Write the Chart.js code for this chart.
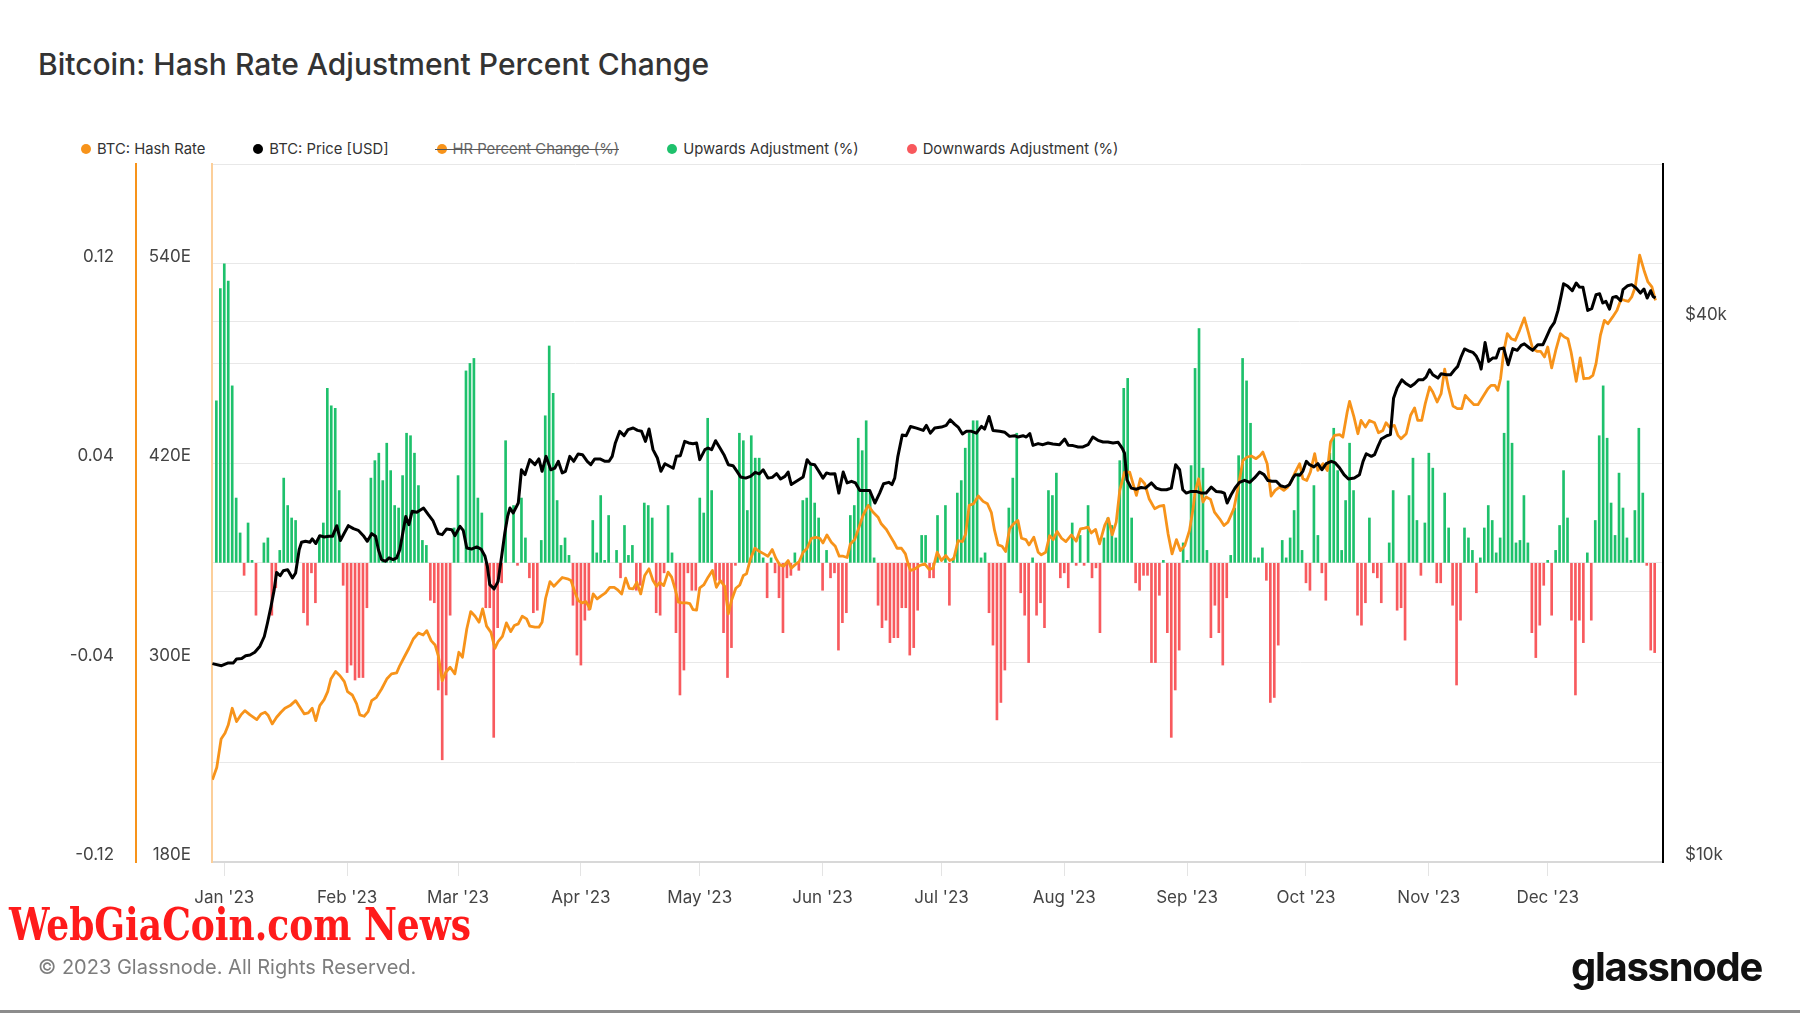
<!DOCTYPE html>
<html>
<head>
<meta charset="utf-8">
<script src="https://cdn.jsdelivr.net/npm/chart.js@4.4.1/dist/chart.umd.min.js"></script>
<style>
  html, body { margin:0; padding:0; background:#fff; }
  body { width:1800px; height:1013px; position:relative; overflow:hidden; font-family: Inter, "Noto Sans", sans-serif; }
  #chart { position:absolute; left:0; top:0; }
  .title { position:absolute; left:38px; top:47px; font-size:30px; line-height:34px; color:#333; font-weight:500; white-space:nowrap; }
  .legend { position:absolute; left:81px; top:139px; height:20px; display:flex; align-items:center; font-size:14.8px; color:#333; white-space:nowrap; }
  .legend .item { display:flex; align-items:center; margin-right:48px; position:relative; }
  .legend .dot { width:10px; height:10px; border-radius:50%; margin-right:6px; display:inline-block; }
  .legend .off { color:#666; }
  .legend .off::after { content:""; position:absolute; left:-2px; right:0; top:50%; height:1px; background:#555; }
  .wm { position:absolute; left:9px; top:899px; font-family:"DejaVu Serif Condensed","DejaVu Serif",serif; font-weight:bold; font-size:45px; line-height:52px; color:#ff1b1b; white-space:nowrap; transform-origin:left center; transform:scaleX(0.89); }
  .copy { position:absolute; left:38px; top:955px; font-size:20px; line-height:24px; color:#7d7d7d; white-space:nowrap; }
  .logo { position:absolute; right:38px; top:942px; font-size:40px; line-height:50px; font-weight:700; color:#111; letter-spacing:-1.3px; white-space:nowrap; }
  .rule { position:absolute; left:0; right:0; top:1010px; height:3px; background:#8c8c8c; }
</style>
</head>
<body>
<div class="title">Bitcoin: Hash Rate Adjustment Percent Change</div>
<div class="legend">
  <div class="item"><span class="dot" style="background:#f7931a"></span>BTC: Hash Rate</div>
  <div class="item"><span class="dot" style="background:#000"></span>BTC: Price [USD]</div>
  <div class="item off"><span class="dot" style="background:#f7931a"></span>HR Percent Change (%)</div>
  <div class="item"><span class="dot" style="background:#1ec16c"></span>Upwards Adjustment (%)</div>
  <div class="item"><span class="dot" style="background:#f8585c"></span>Downwards Adjustment (%)</div>
</div>
<canvas id="chart" width="1800" height="1013"></canvas>
<div class="wm">WebGiaCoin.com News</div>
<div class="copy">© 2023 Glassnode. All Rights Reserved.</div>
<div class="logo">glassnode</div>
<div class="rule"></div>
<script>
// ---- x axis (days since 1 Jan 2023) ----
const monthStartDay = [0,31,59,90,120,151,181,212,243,273,304,334];
const monthLabel = ["Jan '23","Feb '23","Mar '23","Apr '23","May '23","Jun '23","Jul '23","Aug '23","Sep '23","Oct '23","Nov '23","Dec '23"];

// ---- y tick values / labels ----
const pctGridValues = [-0.12,-0.08,-0.04,0,0.04,0.08,0.12,0.16];
const pctTickLabels = ['-0.12','','-0.04','','0.04','','0.12',''];
const hashTickValues = [180,300,420,540];
const priceTickValues = [10000,20000,40000];
const priceTickLabels = ['$10k','','$40k'];

// ---- hash rate percent change per day (first value = day -2, i.e. 30 Dec 2022) ----
const adjStartDay = -2;
const hrAdjustment = [
 0.065,0.110,0.120,0.113,0.071,0.026,0.012,-0.005,0.016,0.001,-0.021,0,0.008,0.010,-0.021,-0.010,0.005,0.034,0.023,0.018,
 0.017,0,-0.020,-0.025,-0.004,-0.016,0.011,0.016,0.070,0.063,0.062,0.029,-0.009,-0.044,-0.041,-0.047,-0.046,-0.046,-0.018,0.034,
 0.041,0.044,0.033,0.048,0.037,0.023,0.022,0.035,0.052,0.051,0.044,0.031,0.009,0.007,-0.015,-0.016,-0.051,-0.079,-0.053,-0.021,
 0.014,0.035,0,0.077,0.080,0.082,0.026,0.020,-0.018,-0.018,-0.070,-0.026,-0.008,0.049,0,0.023,-0.001,0.026,0.010,-0.006,
 -0.020,-0.019,0.009,0.059,0.087,0.068,0.025,0.007,0.010,0.003,-0.017,-0.037,-0.041,-0.023,-0.019,0.017,0.004,0.027,0.001,0.019,
 0,0.005,-0.006,0.015,0.003,0.007,-0.011,-0.009,0.024,0.023,0.018,-0.020,-0.021,-0.004,0.023,0.004,-0.028,-0.053,-0.043,-0.004,
 -0.011,-0.011,0.026,0.020,0.058,0.029,-0.007,-0.007,-0.028,-0.046,-0.034,-0.001,0.052,0.049,0.021,0.051,0.042,0.042,0.002,-0.014,
 0.002,-0.004,-0.014,-0.028,-0.006,-0.005,0.004,-0.003,0.025,0.026,0.040,0.024,0.018,-0.011,0.005,-0.006,-0.004,-0.035,-0.024,-0.020,
 0.019,0.023,0.050,0.045,0.057,0.028,0.002,-0.017,-0.026,-0.023,-0.032,-0.030,-0.030,-0.018,-0.018,-0.037,-0.034,-0.019,0.011,0.011,
 -0.006,-0.006,0.019,0,0.023,-0.017,0.002,0.028,0.033,0.046,0.052,0.057,0.057,0.002,0.004,-0.020,-0.033,-0.063,-0.056,-0.043,
 0.022,0.034,0.052,-0.012,-0.021,-0.040,0.002,-0.021,-0.016,-0.026,0.029,0.027,0.036,-0.006,-0.004,-0.010,0.016,-0.001,0.011,-0.001,
 0.023,-0.006,-0.002,-0.028,0.010,0.018,0.015,0.010,0.041,0.070,0.074,0.018,-0.008,-0.011,-0.005,-0.005,-0.040,-0.040,-0.013,0.001,
 -0.028,-0.070,-0.051,-0.035,0.008,0.001,0.039,0.078,0.094,0.038,0.005,-0.030,-0.017,-0.028,-0.041,-0.014,0.003,0.022,0.043,0.082,
 0.073,0.056,0.002,0.002,0.006,-0.007,-0.056,-0.054,-0.033,0.009,0.002,0.010,0.021,0.036,0.005,-0.008,-0.011,0.031,0.011,-0.004,
 -0.015,0.044,0.054,0.037,0.005,0.025,0.048,0.029,-0.021,-0.025,-0.016,0.018,-0.004,-0.006,-0.016,0,0.008,0.029,-0.019,-0.018,
 -0.031,0.027,0.042,0.017,-0.005,0.016,0.044,0.038,-0.008,-0.008,0.028,0.014,-0.017,-0.049,-0.023,0.014,0.010,0.005,-0.012,0.002,
 0.014,0.023,0.017,0.004,0.010,0.052,0.073,0.048,0.008,0.009,0.027,0.008,-0.028,-0.038,-0.025,-0.009,0.001,-0.021,0.005,0.015,
 0.037,0.018,-0.023,-0.053,-0.023,-0.032,0.004,-0.023,0.017,0.051,0.071,0.050,0.024,0.011,0.036,0.022,0.010,0.001,0.021,0.054,
 0.028,-0.001,-0.035,-0.036
];

// ---- BTC price [USD] ----
const priceDay = [
 -3.0,-0.7,1.0,2.3,3.1,4.4,5.4,6.5,7.7,9.0,10.1,10.9,11.8,12.6,13.2,14.1,14.9,16.0,17.2,18.0,18.9,19.5,20.5,21.6,22.2,23.1,24.1,25.2,26.4,27.3,
 28.4,29.3,30.3,31.3,32.6,33.8,35.1,36.1,37.2,38.2,38.9,39.7,40.7,41.6,42.6,43.5,44.3,45.2,45.8,46.6,47.4,48.6,50.3,51.5,52.7,54.0,55.0,56.1,57.4,58.2,
 59.5,60.3,61.2,62.4,63.7,64.8,65.8,66.4,67.0,68.1,69.1,70.0,70.8,71.5,72.1,72.9,74.2,75.0,75.9,77.1,78.4,79.4,80.2,81.2,82.4,83.4,84.3,85.3,86.1,87.2,
 88.2,89.3,90.4,91.6,92.5,93.5,94.8,96.1,97.1,97.9,98.7,99.8,100.9,101.9,103.2,104.3,105.3,106.3,107.2,108.2,109.3,110.2,111.2,112.5,113.3,114.1,115.1,116.2,117.2,118.3,
 119.2,120.0,121.3,122.1,123.0,124.0,125.1,126.1,127.2,128.4,129.4,130.3,131.6,132.8,134.0,135.0,136.0,137.2,138.3,139.4,140.4,141.5,142.3,143.1,144.4,146.1,147.1,147.9,149.0,150.3,
 151.1,152.0,152.8,154.1,155.1,156.2,157.2,158.3,159.3,160.4,161.6,162.9,164.2,165.4,166.4,167.7,168.5,169.2,170.0,171.1,172.1,173.2,174.7,176.4,177.2,178.2,179.3,181.0,182.2,183.2,
 184.3,185.2,186.3,187.3,188.6,189.8,191.1,191.9,193.0,194.0,195.7,197.0,198.2,199.5,200.3,201.6,202.4,203.3,204.1,205.4,206.6,207.9,209.1,210.8,212.1,213.0,214.2,215.5,216.7,218.0,
 219.2,220.5,221.8,223.0,224.3,225.6,226.6,227.2,227.8,228.9,230.2,231.4,232.5,234.0,235.2,236.5,237.8,239.0,240.1,241.1,241.9,242.8,244.0,245.3,246.6,247.8,249.1,250.3,251.6,252.4,
 253.1,254.1,255.1,256.2,257.5,258.8,260.0,261.3,262.4,263.4,264.4,265.5,266.6,267.8,268.8,269.7,270.3,271.4,272.2,273.1,273.9,275.0,276.0,277.0,278.1,279.4,280.4,281.5,282.6,283.7,
 285.2,286.5,287.4,288.2,289.5,290.3,291.1,292.0,293.4,294.3,295.1,296.0,297.2,298.3,299.4,300.4,301.4,302.5,303.3,304.2,305.0,306.3,307.1,308.4,309.5,310.5,311.3,312.2,313.0,314.3,
 315.1,316.0,316.8,317.2,318.2,319.1,320.1,321.0,321.8,322.9,324.0,325.2,326.3,327.3,328.1,329.4,330.2,331.5,332.8,333.6,334.7,335.7,336.6,337.4,338.0,339.1,340.2,341.2,342.0,342.9,
 344.1,345.1,346.2,347.1,347.9,348.7,349.6,350.4,351.3,352.4,353.0,354.2,355.2,356.3,357.4,358.3,359.1,360.0,360.6,361.2
];
const priceUsd = [
 16640,16550,16670,16670,16840,16860,16980,17010,17130,17400,17840,18470,19280,20120,21030,20850,21120,21180,20730,21000,22290,22720,22780,22720,22920,22650,23110,23030,23070,23070,
 23710,22830,23270,23710,23530,23430,23110,22780,23230,23070,22290,21730,21640,21830,21730,21830,22290,23470,24280,23770,24600,24540,24810,24390,24000,23230,23170,23510,23470,23110,
 23670,23430,22390,22330,22450,22330,21920,21360,20380,20160,20550,21920,23270,24280,24810,24490,25130,27370,27030,28090,27730,28140,27260,28330,27370,27480,27970,27150,27260,28330,
 27970,28500,28450,27970,27730,28140,28140,27970,27970,28330,29320,30210,29880,30340,30470,30280,30210,29440,30390,28820,28210,27260,27800,27600,27480,28330,28380,29440,29320,29260,
 29320,28090,28820,28940,28820,29490,28940,28450,27730,27660,27260,26870,26790,26910,27190,27080,27370,26790,26840,27100,26730,26910,27210,26350,26570,26870,28090,27780,27730,27150,
 26790,27150,27080,27100,25780,27210,26460,26570,26460,25950,25950,25950,25130,25780,26410,26500,26350,26790,28330,29920,29870,30590,30460,30280,30670,30070,30460,30540,30670,31120,
 30770,30540,30000,30210,30210,30070,30590,30380,31380,30280,30210,30130,29820,29870,29770,29870,29770,30030,29140,29270,29190,29320,29240,29190,29620,29140,29120,29020,29020,29190,
 29770,29520,29390,29390,29320,29370,28940,28570,26680,26110,26040,26150,26110,26460,26110,26000,26000,26110,27730,27370,26000,25780,25890,25890,25780,25780,26180,25890,25850,25780,
 25130,25670,26120,26500,26640,26500,26800,27210,27030,26620,26570,26570,26270,26180,26340,26800,27030,26990,27260,27970,27730,27570,27800,27370,27800,27970,27850,27490,27030,26730,
 26800,27030,27970,28520,28330,28450,29020,29620,29870,29950,32890,33770,34480,34130,33890,34130,34480,34480,34720,35380,34930,34630,35020,34930,34930,35380,35690,36620,37320,37100,
 37000,36620,36000,35440,37950,36150,36460,36460,37320,37410,35840,37350,37190,37670,37820,37410,37190,37730,37730,38390,39370,39950,41200,42790,44130,43830,43340,44200,43760,43720,
 41200,41380,42900,43010,41990,42170,41340,42600,42710,42240,43450,43900,44020,43640,43080,43530,42530,43340,42710,42530
];

// ---- BTC hash rate [EH/s] ----
const hashDay = [
 -3.0,-1.9,-0.8,0.2,1.0,2.0,3.1,4.2,5.2,6.5,8.2,9.3,10.3,11.1,12.1,13.2,14.3,15.3,16.6,18.0,19.1,20.2,21.2,22.2,23.1,24.1,25.2,26.1,26.9,28.1,
 29.2,30.3,31.1,32.3,33.4,34.2,35.3,36.3,37.2,38.4,39.7,41.0,42.2,43.5,44.3,45.4,46.6,47.7,49.0,50.2,51.1,52.2,53.2,54.0,55.0,55.9,57.0,58.2,59.2,60.1,
 61.2,62.2,63.3,64.3,65.2,66.2,67.3,68.3,69.1,70.2,71.2,72.3,73.2,74.2,75.2,76.3,77.1,78.4,79.4,80.2,81.1,82.2,83.2,84.3,85.3,86.6,87.5,88.5,89.3,90.3,
 91.3,92.3,93.1,94.1,95.2,96.2,97.3,98.4,99.2,100.3,101.3,102.2,103.2,104.1,105.1,106.1,107.2,108.2,109.1,109.9,110.9,112.0,112.9,113.9,114.6,115.6,116.7,117.5,118.3,119.2,
 120.0,121.0,122.1,123.2,124.2,125.2,126.3,127.2,128.0,129.1,130.1,131.0,131.8,132.8,133.9,135.1,136.2,137.2,138.3,139.2,140.2,141.2,142.3,143.1,144.0,145.1,146.1,147.1,148.2,149.3,
 150.3,151.1,152.1,153.2,154.2,155.2,156.2,157.2,158.0,159.1,160.2,161.2,162.5,163.7,165.0,165.8,167.1,168.0,169.0,169.8,170.9,171.9,172.7,173.2,174.3,175.5,176.8,177.9,178.9,179.9,
 181.0,182.1,183.1,184.1,185.2,186.3,187.1,188.0,189.1,190.3,191.5,192.6,193.6,194.4,195.3,196.3,197.2,198.2,199.2,200.3,201.2,202.3,203.1,204.3,205.4,206.2,207.3,208.3,209.2,210.2,
 211.3,212.4,213.8,215.0,216.1,217.1,218.0,218.8,219.9,220.9,222.2,223.1,224.1,225.1,226.0,227.2,228.5,230.2,231.2,232.3,233.4,234.8,236.1,237.1,238.2,239.2,240.3,241.3,242.4,243.6,
 244.5,245.0,245.9,247.0,247.8,248.9,249.9,251.2,252.3,253.3,254.8,255.8,257.1,258.2,259.2,260.4,261.3,262.1,263.2,264.2,265.2,266.3,267.4,268.4,269.4,270.3,271.4,272.2,273.2,274.1,
 275.2,276.0,277.3,278.4,279.2,280.2,281.5,282.3,283.4,284.0,285.1,286.1,286.9,288.0,289.0,290.3,291.3,292.4,293.2,294.1,295.3,296.2,297.0,298.3,299.4,300.4,301.2,302.2,303.1,304.2,
 305.0,306.1,307.1,308.0,309.0,310.1,311.2,312.3,313.2,314.3,315.4,316.4,317.6,318.9,319.7,320.7,321.4,322.1,322.9,323.8,324.8,325.8,326.9,328.1,329.1,330.2,331.3,332.2,333.2,334.0,
 335.0,336.1,337.2,338.2,339.1,339.9,341.2,342.2,343.1,344.5,345.4,346.2,347.3,348.3,349.2,350.4,351.5,352.5,353.4,354.4,355.2,356.1,357.2,358.3,359.3,360.3,361.2
];
const hashRate = [
 229.5,236.9,254.0,257.6,262.4,272.5,264.5,268.5,271.1,268.5,265.7,269.1,270.1,268.1,263.1,267.1,270.1,272.5,274.1,277.1,273.1,269.1,269.7,272.5,265.1,274.1,277.7,282.5,290.1,294.6,
 292.1,288.5,282.5,280.5,275.1,268.5,267.7,270.5,277.1,279.1,284.1,290.1,293.2,293.8,298.2,303.2,308.6,314.2,317.8,316.6,319.2,313.2,310.6,304.2,289.1,294.2,297.2,293.2,306.2,303.2,
 320.2,330.7,327.9,324.3,332.3,321.9,318.2,308.6,312.6,315.8,323.9,318.6,322.3,323.3,327.9,326.3,321.9,321.3,321.3,324.3,338.7,348.7,345.9,348.7,351.2,350.4,349.4,342.3,337.3,335.9,
 336.7,332.3,341.3,338.3,340.3,341.9,345.3,345.3,343.9,341.3,350.8,344.7,344.3,348.3,341.3,352.4,356.4,349.4,345.9,348.3,346.3,354.4,351.4,343.3,336.3,335.9,335.9,335.5,331.8,331.6,
 345.0,346.7,351.4,355.4,345.3,349.3,345.9,329.3,337.3,344.7,346.7,352.4,353.4,362.4,368.8,366.8,365.4,364.0,368.0,362.8,358.8,358.0,361.4,356.8,358.8,360.8,366.4,368.8,374.8,375.4,
 374.8,372.0,376.8,372.4,370.0,364.0,364.0,363.2,371.4,374.0,381.5,388.5,394.6,390.6,387.5,383.5,380.1,376.4,372.4,368.8,368.8,365.4,358.4,355.4,356.4,358.4,359.4,356.0,356.8,366.4,
 361.4,364.4,361.4,362.4,373.4,372.8,377.4,394.6,395.6,400.2,397.0,395.6,390.2,379.5,370.8,370.0,366.8,380.5,383.5,385.5,374.8,374.0,370.8,375.4,366.4,364.8,366.4,376.4,374.0,378.9,
 374.8,372.8,376.8,373.0,380.5,380.9,381.5,378.0,380.1,371.4,382.5,386.9,376.8,384.5,403.6,414.6,414.6,400.6,410.6,407.6,398.6,392.6,394.2,394.6,377.4,365.4,374.0,367.4,370.4,379.5,
 392.5,402.6,410.6,396.6,399.6,398.2,390.5,386.5,382.5,384.5,392.6,404.6,421.7,423.7,424.3,422.7,424.3,426.7,419.7,400.2,403.6,405.6,403.6,405.6,409.6,414.6,419.7,410.6,409.6,414.6,
 425.7,415.6,419.7,415.6,432.7,436.7,437.1,435.7,450.8,457.2,447.8,437.7,445.7,441.7,445.7,444.3,438.3,439.7,444.3,441.7,442.7,436.7,434.7,437.7,448.8,453.2,445.7,445.7,455.8,465.8,
 462.8,456.8,461.8,476.5,464.8,454.4,452.8,452.8,460.8,457.8,455.2,455.2,459.8,464.8,466.8,466.8,463.8,470.8,486.9,497.9,494.9,493.9,499.9,507.4,498.9,488.9,487.3,487.3,483.9,489.9,
 477.3,488.5,497.9,495.9,494.9,486.9,469.2,483.3,470.8,471.2,472.8,479.9,496.9,505.9,503.9,508.0,512.0,518.6,518.0,517.4,520.0,526.0,545.1,536.1,529.0,526.0,518.0
];

// ---- build datasets from the arrays ----
const upBars = [], downBars = [];
hrAdjustment.forEach((v, i) => {
  const d = adjStartDay + i;
  upBars.push({x: d, y: v > 0 ? v : null});
  downBars.push({x: d, y: v < 0 ? v : null});
});
const pricePts = priceDay.map((d, i) => ({x: d, y: priceUsd[i]}));
const hashPts = hashDay.map((d, i) => ({x: d, y: hashRate[i]}));

const tickFont = {family: 'Inter, "Noto Sans", sans-serif', size: 17};
const tickColor = '#444';

new Chart(document.getElementById('chart'), {
  type: 'bar',
  data: {
    datasets: [
      {type:'line', label:'BTC: Price [USD]', data: pricePts, yAxisID:'yPrice', borderColor:'#000', borderWidth:3, pointRadius:0, tension:0, borderJoinStyle:'round', order:0},
      {type:'line', label:'BTC: Hash Rate', data: hashPts, yAxisID:'yHash', borderColor:'#f7931a', borderWidth:2.8, pointRadius:0, tension:0, borderJoinStyle:'round', order:1},
      {label:'Upwards Adjustment (%)', data: upBars, yAxisID:'yPct', backgroundColor:'#1ec16c', barThickness:2, grouped:false, order:2},
      {label:'Downwards Adjustment (%)', data: downBars, yAxisID:'yPct', backgroundColor:'#f85a5e', barThickness:2, grouped:false, order:2}
    ]
  },
  options: {
    responsive: false,
    animation: false,
    layout: { padding: { top: 164, left: 0, right: 0, bottom: 0 } },
    plugins: { legend: { display: false }, title: { display: false }, tooltip: { enabled: false } },
    scales: {
      x: {
        type: 'linear', min: -3.1, max: 363.1, offset: false,
        afterBuildTicks: a => { a.ticks = monthStartDay.map(v => ({value: v})); },
        afterFit: a => { a.height = 151; },
        grid: { offset: false, drawOnChartArea: false, drawTicks: true, tickLength: 14, color: '#e4e4e4', lineWidth: 1 },
        border: { display: true, color: '#d8d8d8', width: 2 },
        ticks: { autoSkip: false, maxRotation: 0, padding: 12, color: tickColor, font: tickFont, callback: (v, i) => monthLabel[i] }
      },
      yPct: {
        position: 'left', weight: 2, min: -0.12, max: 0.16,
        afterBuildTicks: a => { a.ticks = pctGridValues.map(v => ({value: v})); },
        afterFit: a => { a.width = 136; },
        grid: { color: '#e8e8e8', lineWidth: 1, drawTicks: false },
        border: { display: true, color: '#f7931a', width: 2 },
        ticks: { padding: 22, labelOffset: -7, color: tickColor, font: tickFont, callback: (v, i) => pctTickLabels[i] }
      },
      yHash: {
        position: 'left', weight: 1, min: 180, max: 600,
        afterBuildTicks: a => { a.ticks = hashTickValues.map(v => ({value: v})); },
        afterFit: a => { a.width = 76; },
        grid: { drawOnChartArea: false, drawTicks: false },
        border: { display: true, color: '#fccf9a', width: 2 },
        ticks: { padding: 21, labelOffset: -7, color: tickColor, font: tickFont, callback: v => v + 'E' }
      },
      yPrice: {
        type: 'logarithmic', position: 'right', min: 10000, max: 60000,
        afterBuildTicks: a => { a.ticks = priceTickValues.map(v => ({value: v})); },
        afterFit: a => { a.width = 137; },
        grid: { color: '#e8e8e8', lineWidth: 1, drawTicks: false },
        border: { display: true, color: '#000', width: 2 },
        ticks: { padding: 22, labelOffset: -7, color: tickColor, font: tickFont, callback: (v, i) => priceTickLabels[i] }
      }
    }
  }
});
</script>
</body>
</html>
